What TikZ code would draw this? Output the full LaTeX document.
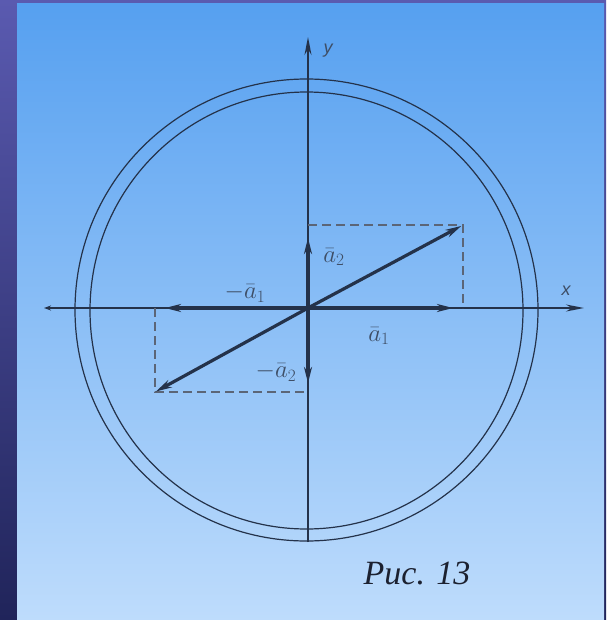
\documentclass[tikz,border=0pt]{standalone}
\usepackage{fontspec}
\setmainfont{Liberation Serif}
\newfontfamily\labfont{Liberation Sans}
\usetikzlibrary{arrows.meta}
\definecolor{ink}{HTML}{24324A}
\definecolor{labc}{HTML}{3E4E66}
\definecolor{capc}{HTML}{1C2130}
\definecolor{bgtop}{HTML}{56A0F0}
\definecolor{bgbot}{HTML}{BEDCFC}
\definecolor{brdtop}{HTML}{5A5AB0}
\definecolor{brdbot}{HTML}{20245A}
\tikzset{
  axis/.style={draw=ink, line width=1.7pt},
  ring/.style={draw=ink, line width=1.2pt},
  vect/.style={draw=ink, line width=3.2pt, -{Stealth[length=16pt,width=8pt]}},
  dsh/.style={draw=ink!75, line width=1.1pt, dash pattern=on 9pt off 5pt},
  lab/.style={text=labc, font=\labfont\itshape\fontsize{18}{18}\selectfont, inner sep=0pt},
  vlab/.style={text=labc, font=\fontsize{23}{23}\selectfont, inner sep=0pt},
}
\begin{document}
\begin{tikzpicture}[x=1pt,y=-1pt]
\useasboundingbox (0,0) rectangle (606,620);
\shade[top color=brdtop, bottom color=brdbot] (0,0) rectangle (606,620);
\shade[top color=bgtop, bottom color=bgbot] (17,4) rectangle (604,620);
% rings
\draw[ring] (306.5,310) ellipse [x radius=231.5, y radius=231];
\draw[ring] (306.5,310.5) ellipse [x radius=216.5, y radius=218.5];
% points
\coordinate (O) at (308,308);
\coordinate (A) at (463,225);
\coordinate (B) at (155,392);
\coordinate (Ax) at (463,308);
\coordinate (Ay) at (308,225);
\coordinate (Bx) at (155,308);
\coordinate (By) at (308,392);
\coordinate (xl) at (44,308);
\coordinate (xr) at (584,308);
\coordinate (yt) at (308,37);
\coordinate (yb) at (308,542);
% axes
\draw[axis, {Stealth[length=7pt,width=5pt]}-{Stealth[length=18pt,width=7pt]}] (xl) -- (xr);
\draw[axis, -{Stealth[length=18pt,width=7pt]}] (yb) -- (yt);
% dashed rectangle
\draw[dsh] (Ay) -- (A) -- (Ax);
\draw[dsh] (Bx) -- (B) -- (By);
% vectors
\draw[vect, shorten >=2pt] (O) -- (A);
\draw[vect, shorten >=1pt] (O) -- (B);
\draw[vect, shorten >=10pt] (O) -- (Ax);
\draw[vect, shorten >=10pt] (O) -- (Bx);
\draw[vect, shorten >=13pt] (O) -- (Ay);
\draw[vect, shorten >=9pt] (O) -- (By);
% labels
\node[lab] (ly) at (328,51) {y};
\node[lab] (lx) at (566,291) {x};
\node[vlab] (l1) at (379,336) {$\bar{a}_1$};
\node[vlab] (lm1) at (245,293) {$-\bar{a}_1$};
\node[vlab] (l2) at (334,257) {$\bar{a}_2$};
\node[vlab] (lm2) at (276,372) {$-\bar{a}_2$};
\node[text=capc, font=\itshape\fontsize{34}{34}\selectfont, inner sep=0pt] (cap) at (417,573) {Рис. 13};
\end{tikzpicture}
\end{document}
